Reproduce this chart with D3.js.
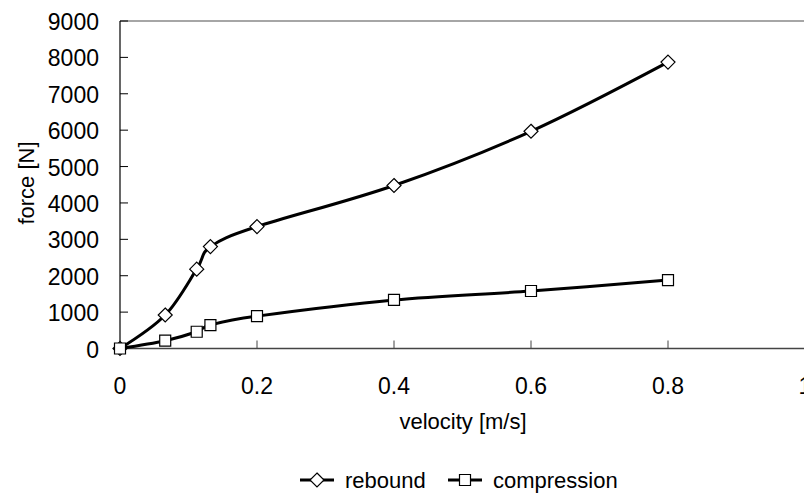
<!DOCTYPE html>
<html>
<head>
<meta charset="utf-8">
<script src="https://cdn.jsdelivr.net/npm/d3@7"></script>
<style>
  body { margin: 0; background: #fff; }
  text { font-family: "Liberation Sans", Arial, sans-serif; fill: #000; }
</style>
</head>
<body>
<svg id="chart" width="804" height="495"></svg>
<script>
// values
var velocity = [0, 0.066, 0.112, 0.132, 0.2, 0.4, 0.6, 0.8];
var rebound = [0, 920, 2180, 2800, 3350, 4480, 5970, 7870];
var compression = [0, 215, 460, 645, 890, 1335, 1580, 1880];
var xTicks = [0, 0.2, 0.4, 0.6, 0.8, 1];
var yTicks = [0, 1000, 2000, 3000, 4000, 5000, 6000, 7000, 8000, 9000];

var svg = d3.select('#chart');
var x = d3.scaleLinear().domain([0, 1]).range([120, 805]);
var y = d3.scaleLinear().domain([0, 9000]).range([348.5, 21]);

// plot frame: top edge in grey
svg.append('line')
  .attr('x1', x(0)).attr('x2', 804)
  .attr('y1', y(9000)).attr('y2', y(9000))
  .attr('stroke', '#888').attr('stroke-width', 1.5);

// y axis
var yAxis = svg.append('g').attr('transform', 'translate(' + x(0) + ',0)');
yAxis.append('line')
  .attr('y1', y(0)).attr('y2', y(9000))
  .attr('stroke', '#000').attr('stroke-width', 1.2);
yAxis.selectAll('.tick')
  .data(yTicks)
  .enter()
  .append('line')
  .attr('x1', 0).attr('x2', 8)
  .attr('y1', function(d) { return y(d); })
  .attr('y2', function(d) { return y(d); })
  .attr('stroke', '#000').attr('stroke-width', 1);
yAxis.selectAll('text')
  .data(yTicks)
  .enter()
  .append('text')
  .attr('x', -21)
  .attr('y', function(d) { return y(d) + 9; })
  .attr('text-anchor', 'end')
  .style('font-size', '23px')
  .text(function(d) { return d; });

// x axis
var xAxis = svg.append('g');
xAxis.append('line')
  .attr('x1', x(0)).attr('x2', 804)
  .attr('y1', y(0)).attr('y2', y(0))
  .attr('stroke', '#444').attr('stroke-width', 1.5);
xAxis.selectAll('.tick')
  .data(xTicks)
  .enter()
  .append('line')
  .attr('x1', function(d) { return x(d); })
  .attr('x2', function(d) { return x(d); })
  .attr('y1', y(0)).attr('y2', y(0) - 8)
  .attr('stroke', '#444').attr('stroke-width', 1);
xAxis.selectAll('text')
  .data(xTicks)
  .enter()
  .append('text')
  .attr('x', function(d) { return x(d); })
  .attr('y', 394)
  .attr('text-anchor', 'middle')
  .style('font-size', '23px')
  .text(function(d) { return d; });

// axis titles
svg.append('text')
  .attr('x', 463).attr('y', 429)
  .attr('text-anchor', 'middle')
  .style('font-size', '22px')
  .text('velocity [m/s]');
svg.append('text')
  .attr('transform', 'translate(34,183) rotate(-90)')
  .attr('text-anchor', 'middle')
  .style('font-size', '22px')
  .text('force [N]');

// smoothed lines like the spreadsheet ones
var line = d3.line()
  .x(function(d) { return x(d[0]); })
  .y(function(d) { return y(d[1]); })
  .curve(d3.curveCatmullRom.alpha(0));

var diamond = function(size) {
  return 'M0,' + (-size) + 'L' + size + ',0L0,' + size + 'L' + (-size) + ',0Z';
};
var square = function(size) {
  return 'M' + (-size) + ',' + (-size) + 'h' + (2 * size) + 'v' + (2 * size) + 'h' + (-2 * size) + 'Z';
};

var series = [
  { name: 'rebound', values: rebound, marker: diamond(7) },
  { name: 'compression', values: compression, marker: square(5.5) }
];

series.forEach(function(s) {
  var pts = velocity.map(function(v, i) { return [v, s.values[i]]; });
  svg.append('path')
    .datum(pts)
    .attr('d', line)
    .attr('fill', 'none')
    .attr('stroke', '#000')
    .attr('stroke-width', 3);
  svg.append('g')
    .selectAll('path')
    .data(pts)
    .enter()
    .append('path')
    .attr('transform', function(d) { return 'translate(' + x(d[0]) + ',' + y(d[1]) + ')'; })
    .attr('d', s.marker)
    .attr('fill', '#fff')
    .attr('stroke', '#000')
    .attr('stroke-width', 1.2);
});

// legend
var legend = svg.append('g').attr('transform', 'translate(0,480)');
var legendX = [300, 448];
series.forEach(function(s, i) {
  var x0 = legendX[i];
  legend.append('line')
    .attr('x1', x0).attr('x2', x0 + 34)
    .attr('y1', 0).attr('y2', 0)
    .attr('stroke', '#000').attr('stroke-width', 3);
  legend.append('path')
    .attr('transform', 'translate(' + (x0 + 17) + ',0)')
    .attr('d', s.marker)
    .attr('fill', '#fff')
    .attr('stroke', '#000')
    .attr('stroke-width', 1.2);
  legend.append('text')
    .attr('x', x0 + 45)
    .attr('y', 8)
    .style('font-size', '22px')
    .text(s.name);
});
</script>
</body>
</html>
